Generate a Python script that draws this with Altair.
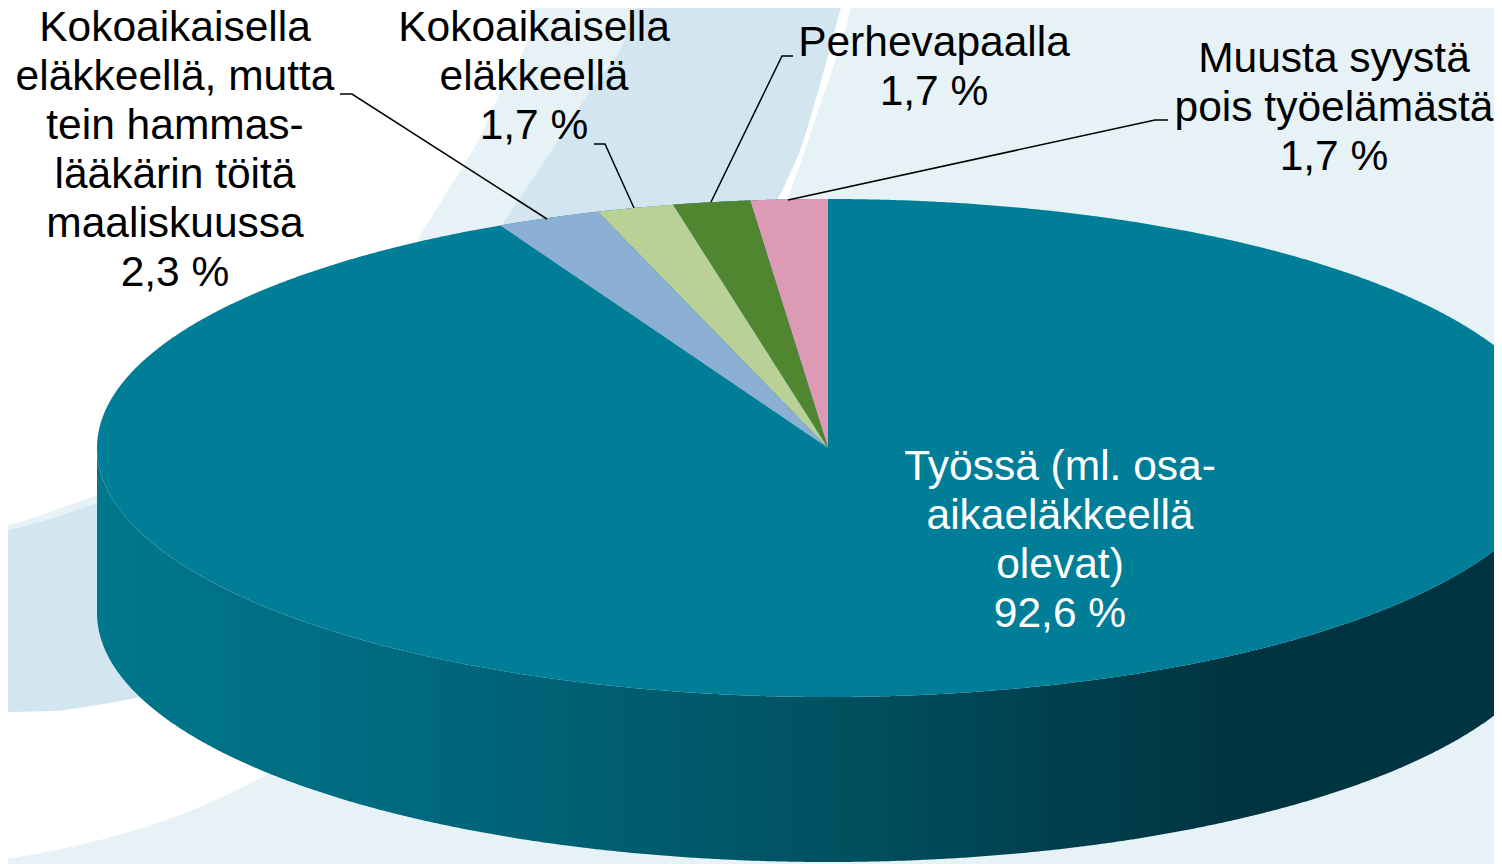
import math
import altair as alt
import pandas as pd

# --- chart values ---
shares = [92.6, 2.3, 1.7, 1.7, 1.7]
names = ["Työssä", "Kokoaikaisella eläkkeellä, mutta", "Kokoaikaisella eläkkeellä", "Perhevapaalla", "Muusta syystä"]
slice_colors = ["#007d97", "#8bb0d4", "#b9d197", "#4f862f", "#dc9ab4"]

CX, CY, RX, RY, DEPTH = 828, 448, 731, 249, 165
W, H = 1494, 864
OFF = 8

label_lines = ["Kokoaikaisella", "eläkkeellä, mutta", "tein hammas-", "lääkärin töitä", "maaliskuussa", "2,3 %",
               "Kokoaikaisella", "eläkkeellä", "1,7 %",
               "Perhevapaalla", "1,7 %",
               "Muusta syystä", "pois työelämästä", "1,7 %",
               "Työssä (ml. osa-", "aikaeläkkeellä", "olevat)", "92,6 %"]
label_x = [175] * 6 + [534] * 3 + [934] * 2 + [1334] * 3 + [1060] * 4
label_y = [41, 90, 139, 188, 237, 286, 41, 90, 139, 56, 105, 72, 121, 170, 480, 529, 578, 627]
label_col = ["#000000"] * 14 + ["#ffffff"] * 4

leader_id = [1, 1, 1, 2, 2, 2, 3, 3, 3, 4, 4, 4]
leader_x = [340, 352, 547, 594, 605, 634, 793, 782, 711, 1168, 1155, 788]
leader_y = [94, 94, 219, 144, 144, 208, 56, 56, 202, 120, 120, 200]

side_stop_x = [97, 350, 600, 850, 1050, 1250, 1559]
side_stop_col = ["#00778c", "#006c81", "#005f72", "#00505f", "#00404e", "#003440", "#003440"]

# background swooshes
light_x = [419, 450, 480, 503, 527, 541, 1502]
light_y = [237, 187, 137, 87, 43, 0, 0]
light_y2 = [864] * 7
strip_x = [777, 788, 800, 815, 830, 843, 853]
strip_y = [200, 178, 150, 102, 48, 0, 0]
strip_y2 = [225, 197, 165, 120, 76, 38, 0]
dark_x = [502, 527, 563, 593, 620, 643, 777, 788, 800, 815, 830, 843]
dark_y = [225, 187, 133, 87, 50, 0, 0, 0, 0, 0, 0, 0]
dark_y2 = [300, 300, 300, 300, 300, 300, 200, 178, 150, 102, 48, 0]
left_light_x = [0, 50, 97, 140]
left_light_y = [528, 512, 495, 480]
left_light_y2 = [712, 711, 705, 697]
left_dark_x = [0, 50, 97, 140]
left_dark_y = [532, 519, 503, 490]
left_dark_y2 = [712, 711, 705, 697]
low_x = [0, 100, 200, 263, 330, 440]
low_y = [860, 840, 807, 777, 745, 690]
low_y2 = [864] * 6

xs = alt.Scale(domain=[OFF, W], nice=False, zero=False)
ys = alt.Scale(domain=[H, OFF], nice=False, zero=False)
X = alt.X("x:Q", scale=xs, axis=None)
Y = alt.Y("y:Q", scale=ys, axis=None)


def area(rows, color):
    return alt.Chart(pd.DataFrame(rows, columns=["x", "y", "y2"])).mark_area(
        color=color, clip=True, line=False
    ).encode(x=X, y=Y, y2="y2:Q")


def swoosh(a, b, c, color):
    return alt.Chart(pd.DataFrame({"x": a, "y": b, "y2": c})).mark_area(
        color=color, clip=True, interpolate="monotone"
    ).encode(x=X, y=Y, y2="y2:Q")


STEPS = 720
angles = [math.pi * i / STEPS for i in range(STEPS + 1)]
ell_x = [CX - RX * math.cos(t) for t in angles]
top = [(x, CY - RY * math.sin(t), CY + RY * math.sin(t)) for x, t in zip(ell_x, angles)]
side = [(x, CY + RY * math.sin(t), CY + DEPTH + RY * math.sin(t)) for x, t in zip(ell_x, angles)]

grad = alt.Gradient(
    gradient="linear", x1=0, x2=1, y1=0, y2=0,
    stops=[alt.GradientStop(offset=(v - CX + RX) / (2 * RX), color=c)
           for v, c in zip(side_stop_x, side_stop_col)],
)

layers = [
    swoosh(light_x, light_y, light_y2, "#e7f2f7"),
    swoosh(strip_x, strip_y, strip_y2, "#ffffff"),
    swoosh(dark_x, dark_y, dark_y2, "#d3e6f0"),
    swoosh(left_light_x, left_light_y, left_light_y2, "#e7f2f7"),
    swoosh(left_dark_x, left_dark_y, left_dark_y2, "#d3e6f0"),
    swoosh(low_x, low_y, low_y2, "#e7f2f7"),
    area(side, grad),
    area(top, slice_colors[0]),
]


def ell_top(x):
    u = max(-1.0, min(1.0, (x - CX) / RX))
    return CY - RY * math.sqrt(1 - u * u)


# the small slices run counter-clockwise from the top of the pie, in reverse list order
cum = 0.0
for share, color in zip(reversed(shares[1:]), reversed(slice_colors[1:])):
    a0 = 2 * math.pi * cum / 100
    cum += share
    a1 = 2 * math.pi * cum / 100
    x0, y0 = CX - RX * math.sin(a0), CY - RY * math.cos(a0)
    x1, y1 = CX - RX * math.sin(a1), CY - RY * math.cos(a1)
    grid = sorted({x1 + (CX - x1) * i / 120 for i in range(121)} | {x0})
    rows = []
    for x in grid:
        low = CY + (y1 - CY) * (CX - x) / (CX - x1)
        up = ell_top(x)
        if a0 > 0:
            up = max(up, CY + (y0 - CY) * (CX - x) / (CX - x0))
        rows.append((x, up, low))
    layers.append(area(rows, color))

layers.append(
    alt.Chart(pd.DataFrame({"x": leader_x, "y": leader_y, "id": leader_id, "o": range(len(leader_x))}))
    .mark_line(color="#000000", strokeWidth=1.5, clip=True)
    .encode(x=X, y=Y, detail="id:N", order="o:Q")
)
layers.append(
    alt.Chart(pd.DataFrame({"x": label_x, "y": label_y, "t": label_lines, "c": label_col}))
    .mark_text(font="Liberation Sans", fontSize=42.5, align="center", baseline="alphabetic")
    .encode(x=X, y=Y, text="t:N", color=alt.Color("c:N", scale=None))
)

chart = (
    alt.layer(*layers)
    .properties(width=W - OFF, height=H - OFF, padding=0, background="#ffffff",
                autosize=alt.AutoSizeParams(type="none"))
    .configure_view(stroke=None)
)
chart.save("out.html", embed_options={"renderer": "svg", "actions": False})
